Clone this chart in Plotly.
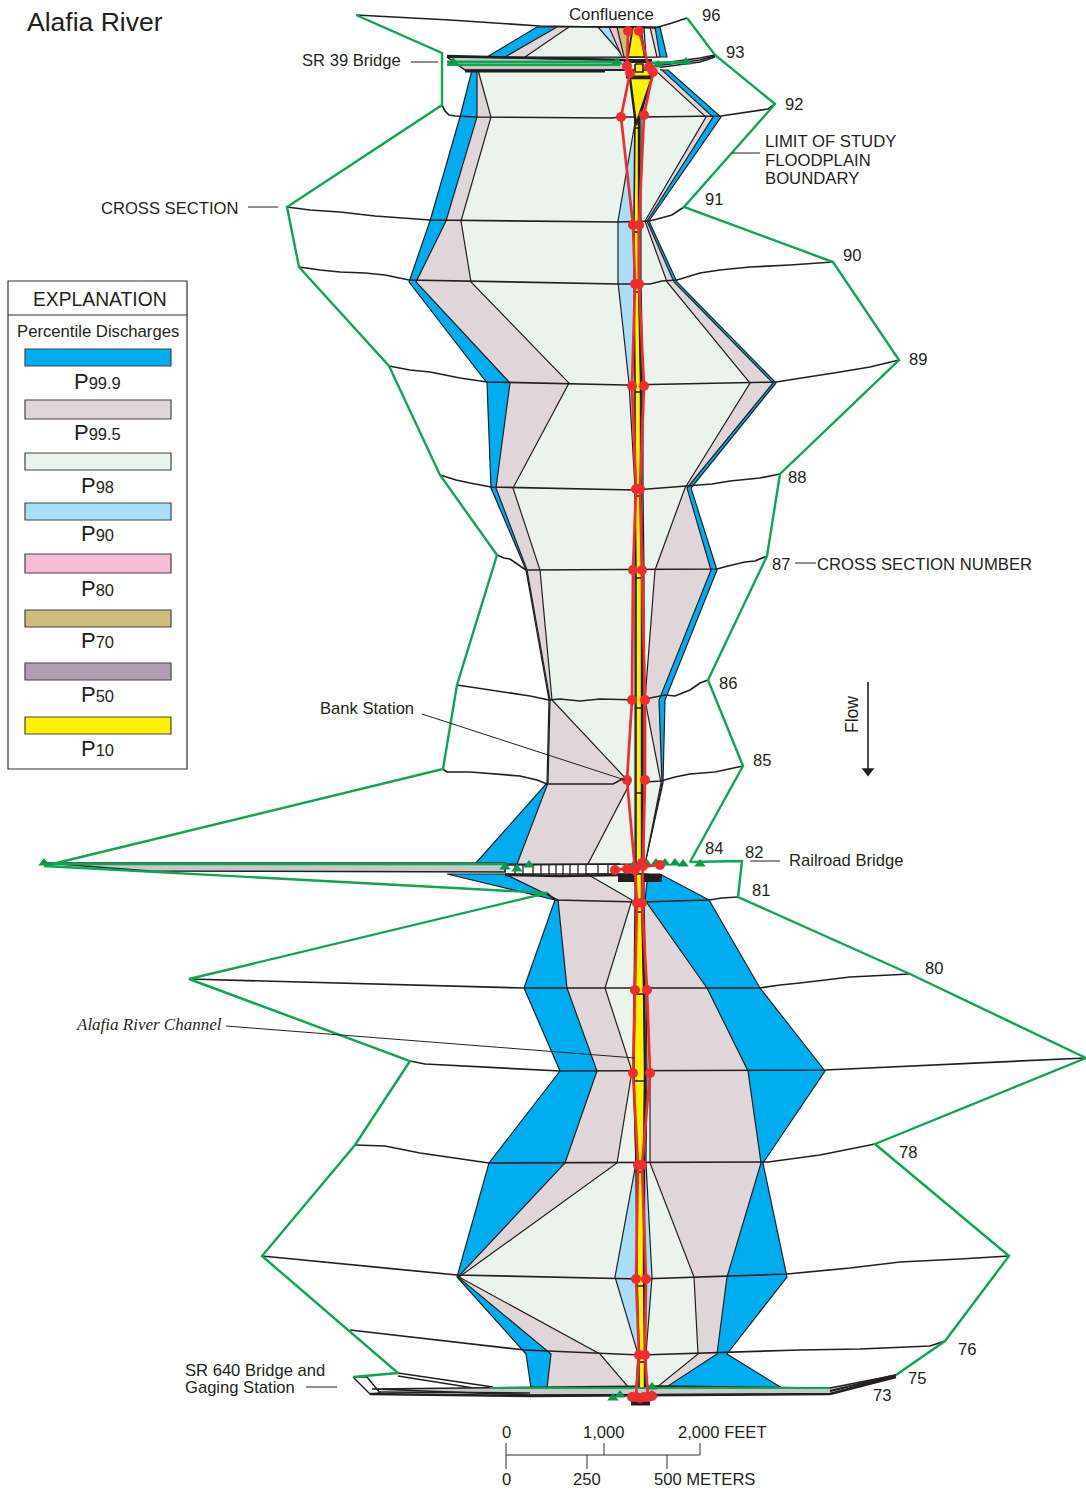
import plotly.graph_objects as go

# ---------- floodplain percentile widths at each cross section ----------
section_y = [27, 57, 70, 117, 221, 282, 383, 488, 570, 700, 783, 864, 874, 900, 988, 1071, 1163, 1277, 1354, 1388]
p999_left = [537, 487, 472, 460, 430, 409, 487, 491, 526, 549, 547, 475, 447, 555, 524, 560, 489, 457, 526, 531]
p995_left = [557, 505, 477, 477, 446, 416, 510, 496, 527, 550, 548, 517, 505, 558, 567, 597, 565, 458, 551, 547]
p98_left = [569, 525, 478, 491, 461, 471, 569, 513, 540, 552, 630, 588, 587, 632, 605, 632, 617, 459, 600, 629]
p90_left = [598, 624, 636, 636, 618, 618, 629, 635, 635, 635, 635, 635, 635, 635, 634, 633, 636, 615, 638, 636]
p10_left = [633, 628, 630, 635, 634, 634, 635, 635, 636, 636, 636, 636, 636, 636, 635, 634, 636, 637, 639, 639]
p10_right = [640, 645, 652, 639, 639, 639, 641, 641, 642, 642, 642, 642, 642, 642, 644, 645, 644, 644, 645, 645]
p90_right = [644, 646, 652, 641, 641, 641, 643, 643, 644, 644, 644, 644, 644, 644, 646, 647, 646, 652, 646, 646]
p98_right = [650, 657, 655, 706, 645, 667, 750, 685, 655, 645, 661, 645, 643, 640, 647, 650, 650, 694, 698, 656]
p995_right = [655, 660, 662, 713, 647, 674, 773, 687, 711, 659, 662, 645, 648, 645, 707, 748, 761, 727, 717, 665]
p999_right = [660, 667, 668, 721, 649, 677, 776, 691, 717, 665, 663, 645, 660, 709, 760, 825, 763, 787, 727, 782]
reaches = [(0, 2), (2, 12), (12, 20)]
p80_left_top = [609, 622]
p70_left_top = [617, 624]
channel_arc_y = [128, 232, 292, 392, 496, 578, 708, 793, 912, 994, 1081, 1172, 1286, 1362]

# ---------- surveyed cross-section lines ----------
sec_96 = ([356, 450, 540, 600, 655, 672, 687], [15, 20, 26, 27, 28, 23, 18])
sec_92 = ([442, 445, 449, 455, 477, 600, 612, 620, 640, 721, 735, 750, 768, 775], [105, 111, 115, 116, 117, 118, 118, 117, 117, 116, 114, 112, 109, 104])
sec_91 = ([287, 310, 340, 375, 430, 618, 650, 662, 672, 684], [207, 210, 212, 216, 220, 222, 221, 218, 215, 207])
sec_90 = ([299, 320, 340, 365, 385, 409, 618, 650, 662, 677, 700, 720, 750, 790, 833], [267, 270, 272, 273, 275, 280, 284, 284, 281, 280, 273, 270, 267, 265, 262])
sec_89 = ([389, 410, 430, 460, 487, 625, 776, 810, 840, 870, 899], [366, 370, 372, 378, 382, 385, 382, 377, 372, 367, 360])
sec_88 = ([440, 456, 470, 491, 635, 690, 712, 730, 760, 780], [475, 480, 483, 487, 490, 486, 484, 481, 478, 474])
sec_87 = ([497, 504, 510, 518, 523, 526, 717, 728, 745, 755, 767], [555, 558, 559, 564, 568, 570, 569, 566, 562, 561, 556])
sec_86 = ([457, 485, 510, 530, 549, 560, 580, 600, 640, 665, 675, 690, 700, 708], [685, 689, 693, 696, 700, 699, 701, 699, 700, 695, 696, 690, 683, 680])
sec_85 = ([443, 447, 470, 495, 520, 537, 547, 613, 628], [769, 772, 772, 774, 776, 780, 784, 784, 776])
sec_85b = ([645, 661, 675, 690, 715, 743], [782, 781, 777, 774, 772, 766])
sec_81 = ([547, 555, 640, 709, 722, 738], [893, 900, 902, 900, 898, 897])
sec_80 = ([189, 524, 760, 780, 800, 850, 910], [979, 988, 988, 985, 983, 977, 974])
sec_79 = ([410, 425, 560, 825, 1086], [1061, 1064, 1071, 1070, 1058])
sec_78 = ([355, 385, 420, 489, 768, 820, 875], [1145, 1146, 1153, 1163, 1162, 1155, 1144])
sec_77 = ([262, 457, 640, 787, 850, 900, 960, 1009], [1256, 1275, 1279, 1274, 1268, 1262, 1259, 1256])
sec_76 = ([350, 525, 640, 726, 800, 860, 900, 930, 945], [1330, 1350, 1355, 1352, 1350, 1349, 1347, 1346, 1341])
sec_75 = ([398, 493], [1373, 1387])
sec_74 = ([398, 480], [1376, 1389])
section_lines = [sec_96, sec_92, sec_91, sec_90, sec_89, sec_88, sec_87, sec_86, sec_85, sec_85b,
                 sec_81, sec_80, sec_79, sec_78, sec_77, sec_76, sec_75, sec_74]

# ---------- limit of study floodplain boundary ----------
limit_left_x = [356, 442, 442, 287, 299, 389, 440, 497, 457, 443, 44, 547]
limit_left_y = [15, 53, 105, 207, 267, 366, 475, 555, 685, 769, 866, 893]
limit_left2_x = [547, 189, 410, 355, 262, 398, 353]
limit_left2_y = [893, 979, 1061, 1145, 1256, 1373, 1377]
limit_right_x = [687, 715, 775, 684, 833, 899, 780, 767, 708, 743, 690, 742, 738, 910, 1086, 875, 1009, 945, 896]
limit_right_y = [18, 55, 104, 207, 262, 360, 474, 556, 680, 766, 862, 861, 897, 974, 1058, 1144, 1256, 1341, 1375]

# ---------- bank stations ----------
bank_left_x = [628, 627, 630, 621, 633, 635, 632, 636, 633, 632, 627, 635, 637, 635, 633, 638, 636, 639, 636]
bank_left_y = [31, 66, 73, 117, 225, 284, 386, 489, 570, 700, 780, 870, 903, 990, 1073, 1165, 1279, 1355, 1397]
bank_right_x = [639, 649, 653, 644, 639, 639, 644, 640, 642, 645, 645, 643, 642, 647, 650, 642, 646, 645, 648]
bank_right_y = [31, 67, 72, 115, 225, 284, 386, 489, 570, 700, 780, 866, 903, 990, 1073, 1165, 1279, 1355, 1397]
extra_bank_x = [615, 660, 627, 632, 640, 644, 652, 642]
extra_bank_y = [870, 865, 869, 1397, 1398, 1397, 1396, 863]

# ---------- bridge details ----------
green_tri_x = [453, 617, 658, 686, 505, 517, 529, 634, 647, 656, 665, 675, 683, 700, 613, 620, 652, 652]
green_tri_y = [62, 62, 65, 62, 867, 869, 865, 865, 864, 863, 863, 863, 864, 864, 1398, 1395, 1387, 1395]
lattice_x = [515, 523, 533, 541, 549, 556, 563, 570, 578, 586, 598, 608]

# ---------- legend ----------
legend_names = ["99.9", "99.5", "98", "90", "80", "70", "50", "10"]
legend_colors = ["#00AEEF", "#E0D5D8", "#EAF3EC", "#A9DEF9", "#F7BCD5", "#CFBD7C", "#B19FB5", "#FFF200"]
legend_tops = [349, 400, 453, 503, 554, 610, 663, 717]
legend_bottoms = [366, 419, 470, 520, 573, 627, 680, 734]
legend_label_y = [381, 432, 485, 533, 588, 640, 694, 748]

BLACK = "#231F20"
GREEN = "#0FA650"
RED = "#ED2E2E"
FONT = "Liberation Sans"

fig = go.Figure()


def poly(xs, ys, fill, lw=1.2, line=BLACK):
    fig.add_trace(go.Scatter(x=xs + [xs[0]], y=ys + [ys[0]], mode="lines", fill="toself", fillcolor=fill,
                             line=dict(color=line, width=lw), hoverinfo="skip"))


def line(xs, ys, color=BLACK, w=1.7):
    fig.add_trace(go.Scatter(x=xs, y=ys, mode="lines", line=dict(color=color, width=w), hoverinfo="skip"))


for a, b in reaches:
    y = section_y[a:b]
    for lft, rgt, col in [(p999_left, p999_right, legend_colors[0]), (p995_left, p995_right, legend_colors[1]),
                          (p98_left, p98_right, legend_colors[2]), (p90_left, p90_right, legend_colors[3])]:
        poly(lft[a:b] + rgt[a:b][::-1], y + y[::-1], col)

# upper reach inner percentiles
poly(p80_left_top + p10_left[:2][::-1], section_y[:2] + section_y[:2][::-1], legend_colors[4])
poly(p70_left_top + p10_left[:2][::-1], section_y[:2] + section_y[:2][::-1], legend_colors[5])

for xs, ys in section_lines:
    line(xs, ys)

# bridges
poly([44, 505, 505, 150], [863, 863, 872, 871], "#C4C9CA", 1.6)
poly([372, 620, 660, 830, 896, 830, 530], [1389, 1387, 1386, 1388, 1375, 1394, 1395], "#C4C9CA", 1.6)
line([353, 370, 380, 367, 353], [1377, 1394, 1393, 1377, 1377], w=1.4)
line([370, 530, 830, 896], [1394, 1396, 1394, 1377], w=2.6)
line([380, 530], [1392, 1393], w=1.6)
line([830, 896], [1391, 1375], w=2)
poly([447, 625, 625, 465], [57, 60, 70, 70], "#C4C9CA", 1.4)
line([447, 625], [56, 60], w=2.4)
line([465, 605], [71, 71], w=3)
line([605, 625], [70, 70], w=1.8)
for off in [0, 2, 4]:
    line([655, 700, 715], [68 - off, 62 - off, 57 - off / 2], w=1.5)
poly([625, 660, 660, 625], [60, 60, 72, 72], "#EAF3EC", 0.1, "#EAF3EC")
for x in lattice_x:
    line([x, x], [865, 875], w=1.3)
line([505, 620], [865, 864], w=1.6)
line([505, 560, 620], [875, 876, 875], w=2.6)
line([620, 660, 660, 620, 620], [876, 876, 880, 880, 876], w=4)
line([631, 650], [1403, 1403], w=5)

# channel P10 band
for a, b in reaches:
    y = section_y[a:b]
    poly(p10_left[a:b] + p10_right[a:b][::-1], y + y[::-1], legend_colors[7], 1.6)
    line(p10_right[a:b], y, BLACK, 2.4)
poly([630, 652, 636], [78, 78, 125], legend_colors[7], 2.4)
poly([635, 643, 643, 635], [64, 64, 72, 72], legend_colors[7], 1.6)
line([624, 652], [61, 61], w=4)
line([626, 652], [77, 77], w=3)
for y in channel_arc_y:
    i = max(k for k in range(len(section_y)) if section_y[k] <= y)
    line([p10_left[i], p10_right[i]], [y, y], BLACK, 1.6)

# green limit lines
line(limit_left_x, limit_left_y, GREEN, 2.4)
line(limit_left2_x, limit_left2_y, GREEN, 2.4)
line(limit_right_x, limit_right_y, GREEN, 2.4)
line([44, 505], [864, 864], GREEN, 2.6)
line([447, 620], [62, 62], GREEN, 3)
line([447, 620], [65, 65], GREEN, 1.8)
line([650, 690], [63, 62], GREEN, 3)
line([490, 830], [1388, 1388], GREEN, 2)
fig.add_trace(go.Scatter(x=green_tri_x + [44], y=green_tri_y + [863], mode="markers", hoverinfo="skip",
                         marker=dict(symbol="triangle-up", size=10, color="#0B9A4C")))

# red bank stations
line(bank_left_x, bank_left_y, RED, 2.7)
line(bank_right_x, bank_right_y, RED, 2.7)
line(extra_bank_x[:2], extra_bank_y[:2], RED, 2.7)
line([632, 652], [1397, 1397], RED, 5)
fig.add_trace(go.Scatter(x=bank_left_x + bank_right_x + extra_bank_x, y=bank_left_y + bank_right_y + extra_bank_y,
                         mode="markers", marker=dict(color=RED, size=10), hoverinfo="skip"))

# leaders
for xs, ys in [([411, 438], [62, 62]), ([248, 278], [207, 207]), ([732, 760], [153, 153]), ([795, 816], [563, 563]),
               ([422, 625], [714, 780]), ([226, 635], [1026, 1058]), ([750, 780], [861, 861]), ([306, 337], [1387, 1387])]:
    line(xs, ys, BLACK, 1)

# scale bar
line([506, 700], [1455, 1455], "#333333", 1)
for x in [506, 604, 700]:
    line([x, x], [1443, 1455], "#333333", 1)
for x in [506, 587, 667]:
    line([x, x], [1455, 1469], "#333333", 1)

# flow arrow
line([868, 868], [682, 770], BLACK, 1.6)
fig.add_trace(go.Scatter(x=[868], y=[771], mode="markers", hoverinfo="skip",
                         marker=dict(symbol="triangle-down", size=11, color=BLACK)))

ann = []


def txt(x, y, s, size=16.6, anchor="left", color="#231F20", family=FONT, angle=0):
    if anchor == "left":
        x -= 2
    ann.append(dict(x=x, y=y, text=s, xref="x", yref="y", showarrow=False, xanchor=anchor, yanchor="middle",
                    font=dict(size=size, color=color, family=family), textangle=angle, align="left"))


txt(27, 22, "Alafia River", 26.5)
txt(611, 14, "Confluence", 16.8, "center")
for s, x, y in [("96", 702, 15), ("93", 726, 52), ("92", 785, 104), ("91", 705, 199), ("90", 843, 255),
                ("89", 909, 359), ("88", 788, 477), ("87", 772, 564), ("86", 719, 683), ("85", 753, 760),
                ("84", 705, 848), ("82", 745, 852), ("81", 752, 890), ("80", 925, 968), ("78", 899, 1152),
                ("76", 958, 1349), ("75", 908, 1378), ("73", 873, 1395)]:
    txt(x, y, s)
txt(302, 60, "SR 39 Bridge")
txt(101, 208, "CROSS SECTION")
txt(765, 141, "LIMIT OF STUDY", 16.7)
txt(765, 160, "FLOODPLAIN", 16.7)
txt(765, 178, "BOUNDARY", 16.7)
txt(817, 564, "CROSS SECTION NUMBER", 16.7)
txt(320, 708, "Bank Station")
txt(789, 860, "Railroad Bridge")
txt(76, 1024, "<i>Alafia River Channel</i>", 17, family="Liberation Serif")
txt(185, 1370, "SR 640 Bridge and")
txt(185, 1387, "Gaging Station")
txt(852, 715, "Flow", 17.5, "center", angle=-90)
txt(506, 1432, "0", 16.6, "center")
txt(604, 1432, "1,000", 16.6, "center")
txt(678, 1432, "2,000 FEET")
txt(506, 1479, "0", 16.6, "center")
txt(587, 1479, "250", 16.6, "center")
txt(654, 1479, "500 METERS")

# legend
shapes = [
    dict(type="rect", x0=8, x1=187, y0=281, y1=769, xref="x", yref="y", line=dict(color="#333333", width=1.2),
         layer="above"),
    dict(type="line", x0=8, x1=187, y0=315, y1=315, xref="x", yref="y", line=dict(color="#333333", width=1.2)),
]
for col, t, b in zip(legend_colors, legend_tops, legend_bottoms):
    shapes.append(dict(type="rect", x0=25, x1=171, y0=t, y1=b, xref="x", yref="y", fillcolor=col,
                       line=dict(color="#444444", width=1.2)))
txt(100, 299, "EXPLANATION", 19.3, "center")
txt(98, 331, "Percentile Discharges", 16.7, "center")
for name, y in zip(legend_names, legend_label_y):
    txt(97, y, 'P<span style="font-size:16.5px">%s</span>' % name, 22, "center")

fig.update_layout(
    width=1086, height=1494, autosize=False, margin=dict(l=0, r=0, t=0, b=0),
    paper_bgcolor="white", plot_bgcolor="white", showlegend=False,
    xaxis=dict(range=[0, 1086], visible=False, fixedrange=True),
    yaxis=dict(range=[1494, 0], visible=False, fixedrange=True),
    shapes=shapes, annotations=ann,
)
fig.write_html("out.html", config=dict(displayModeBar=False),
               post_script="document.body.style.margin='0';")
